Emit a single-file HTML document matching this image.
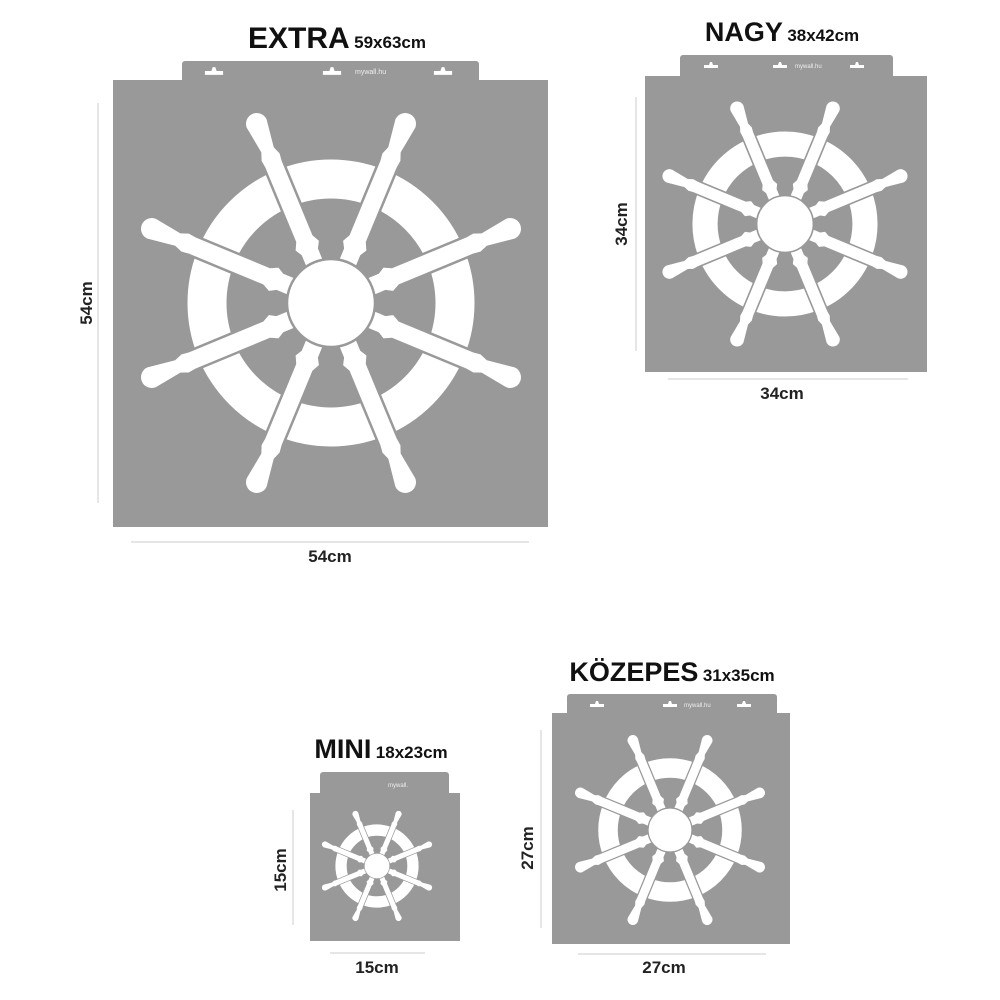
<!DOCTYPE html>
<html><head><meta charset="utf-8"><style>
body{margin:0;background:#fff;width:1000px;height:1000px;overflow:hidden;position:relative;font-family:"Liberation Sans",sans-serif}
.t{position:absolute;font-weight:bold;color:#111;white-space:nowrap;transform:translateX(-50%)}
.t b{font-size:30px}.t span{font-size:17px}
.l{position:absolute;font-weight:bold;font-size:17px;color:#222;transform:translate(-50%,-50%)}
.v{transform:translate(-50%,-50%) rotate(-90deg)}
</style></head><body>
<svg width="1000" height="1000" style="position:absolute;left:0;top:0">
<defs>
<g id="sp"><path d="M -10,0 L -10,-55 L -14,-62 L -10,-70 L -10,-150 L -11,-158 L -8,-166 L -12,-194 A 12 12 0 0 1 12,-194 L 8,-166 L 11,-158 L 10,-150 L 10,-70 L 14,-62 L 10,-55 L 10,0 Z" fill="#fff" stroke="#999" stroke-width="2.5"/></g>
<g id="wh">
<circle r="124" fill="none" stroke="#fff" stroke-width="39"/>
<use href="#sp" transform="rotate(22.5)"/><use href="#sp" transform="rotate(67.5)"/><use href="#sp" transform="rotate(112.5)"/><use href="#sp" transform="rotate(157.5)"/>
<use href="#sp" transform="rotate(202.5)"/><use href="#sp" transform="rotate(247.5)"/><use href="#sp" transform="rotate(292.5)"/><use href="#sp" transform="rotate(337.5)"/>
<circle r="44" fill="#fff" stroke="#999" stroke-width="2.5"/>
</g>
<g id="hole"><path d="M -7,3 L -7,0 L -2,0 L -1,-3 L 1,-3 L 2,0 L 7,0 L 7,3 Z" fill="#fff"/></g>
</defs>
<g fill="#999">
<rect x="182" y="61" width="297" height="22" rx="3"/><rect x="113" y="80" width="435" height="447"/>
<rect x="680" y="55" width="213" height="24" rx="3"/><rect x="645" y="76" width="282" height="296"/>
<rect x="567" y="694" width="210" height="22" rx="3"/><rect x="552" y="713" width="238" height="231"/>
<rect x="320" y="772" width="129" height="24" rx="3"/><rect x="310" y="793" width="150" height="148"/>
</g>
<use href="#hole" transform="translate(214,71) scale(1.3)"/><use href="#hole" transform="translate(332,71) scale(1.3)"/><use href="#hole" transform="translate(443,71) scale(1.3)"/>
<text x="355" y="74" font-size="7" fill="#eee" font-family="Liberation Sans">mywall.hu</text>
<use href="#hole" transform="translate(711,65)"/><use href="#hole" transform="translate(780,65)"/><use href="#hole" transform="translate(857,65)"/>
<text x="795" y="68" font-size="6" fill="#eee" font-family="Liberation Sans">mywall.hu</text>
<use href="#hole" transform="translate(597,704)"/><use href="#hole" transform="translate(670,704)"/><use href="#hole" transform="translate(744,704)"/>
<text x="684" y="707" font-size="6" fill="#eee" font-family="Liberation Sans">mywall.hu</text>
<text x="388" y="787" font-size="6" fill="#eee" font-family="Liberation Sans">mywall.</text>
<use href="#wh" transform="translate(331,303)"/>
<use href="#wh" transform="translate(785,224) scale(0.645)"/>
<use href="#wh" transform="translate(670,830) scale(0.5)"/>
<use href="#wh" transform="translate(377,866) scale(0.29)"/>
<g stroke="#ccc" stroke-width="1">
<line x1="98" y1="103" x2="98" y2="503"/><line x1="131" y1="542" x2="529" y2="542"/>
<line x1="636" y1="97" x2="636" y2="351"/><line x1="668" y1="379" x2="908" y2="379"/>
<line x1="293" y1="810" x2="293" y2="925"/><line x1="330" y1="953" x2="425" y2="953"/>
<line x1="541" y1="730" x2="541" y2="928"/><line x1="578" y1="954" x2="766" y2="954"/>
</g>
</svg>
<div class="t" style="left:337px;top:22px"><b>EXTRA</b> <span>59x63cm</span></div>
<div class="t" style="left:782px;top:17px"><b style="font-size:27px">NAGY</b> <span>38x42cm</span></div>
<div class="t" style="left:672px;top:657px"><b style="font-size:27px">KÖZEPES</b> <span>31x35cm</span></div>
<div class="t" style="left:381px;top:734px"><b style="font-size:27px">MINI</b> <span>18x23cm</span></div>
<div class="l v" style="left:87px;top:303px">54cm</div>
<div class="l" style="left:330px;top:557px">54cm</div>
<div class="l v" style="left:622px;top:224px">34cm</div>
<div class="l" style="left:782px;top:394px">34cm</div>
<div class="l v" style="left:281px;top:870px">15cm</div>
<div class="l" style="left:377px;top:968px">15cm</div>
<div class="l v" style="left:528px;top:848px">27cm</div>
<div class="l" style="left:664px;top:968px">27cm</div>
</body></html>
